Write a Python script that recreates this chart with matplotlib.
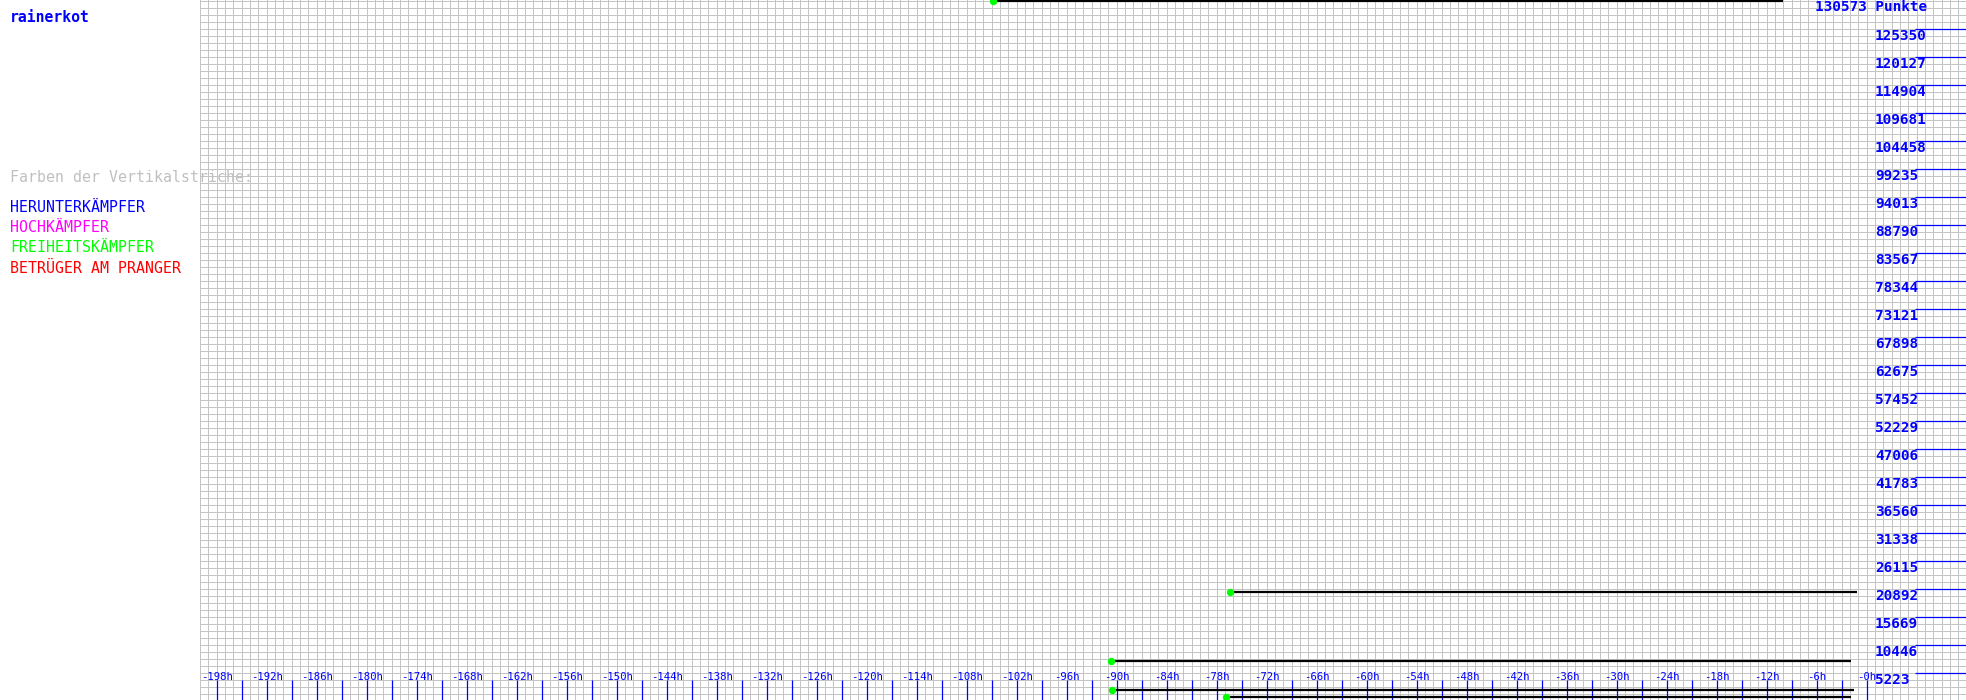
import matplotlib
matplotlib.use("Agg")
import matplotlib.pyplot as plt
import matplotlib.transforms as mtransforms

# ---- data ----
player_name = "rainerkot"
top_label = "130573 Punkte"
top_value = 130573
y_tick_values = [5223, 10446, 15669, 20892, 26115, 31338, 36560, 41783, 47006,
                 52229, 57452, 62675, 67898, 73121, 78344, 83567, 88790, 94013,
                 99235, 104458, 109681, 114904, 120127, 125350]
x_tick_hours = list(range(-198, 1, 6))               # labelled ticks
x_minor_hours = list(range(-198, 1, 3))              # all tick marks

# horizontal score segments (start hour, end hour, points)
seg_start = [-104.8, -76.4, -90.7, -90.5, -76.9]
seg_end = [-10.0, -1.1, -1.9, -1.5, -1.9]
seg_value = [130573, 20333, 7462, 1996, 634]

legend_title = "Farben der Vertikalstriche:"
legend_items = ["HERUNTERKÄMPFER", "HOCHKÄMPFER", "FREIHEITSKÄMPFER", "BETRÜGER AM PRANGER"]
legend_colors = ["#0000ff", "#ff00ff", "#00ff00", "#ff0000"]

# ---- figure ----
W, H = 1966, 700
fig = plt.figure(figsize=(W / 100, H / 100), dpi=100)
fig.patch.set_facecolor("white")
ax = fig.add_axes([200 / W, 0, (W - 200) / W, 1])
ax.set_xlim(-200, 11.92)
ax.set_ylim(130, 130706)
ax.axis("off")

mono = "DejaVu Sans Mono"
grid_step = top_value / 100

# grid
for h in range(-200, 12):
    ax.axvline(h, color="#c4c4c4", lw=0.72, zorder=1)
for k in range(0, 101):
    ax.axhline(k * grid_step, color="#c4c4c4", lw=0.72, zorder=1)

# right-side blue marker lines and labels
ax.hlines(y_tick_values, 5.8, 11.92, color="#0000ff", lw=0.9, zorder=3)
for v in y_tick_values:
    ax.annotate(str(v), xy=(1.0, v), xytext=(0, -5.4), textcoords="offset points",
                ha="left", va="center", fontsize=10.4, family=mono,
                fontweight="bold", color="#0000ff", zorder=4)
ax.annotate(top_label, xy=(-6.2, top_value), xytext=(0, -4.8), textcoords="offset points",
            ha="left", va="center", fontsize=10.4, family=mono,
            fontweight="bold", color="#0000ff", zorder=4)

# x axis ticks and labels
trans = mtransforms.blended_transform_factory(ax.transData, ax.transAxes)
ax.vlines(x_minor_hours, 0, 20 / 700, transform=trans, color="#0000ff", lw=0.9, zorder=3)
for h in x_tick_hours:
    ax.text(h, 1 - 676.7 / 700, f"-{abs(h)}h", transform=trans, ha="center", va="center",
            fontsize=7.7, family=mono, color="#0000ff", zorder=4)

# score segments
for s, e, v in zip(seg_start, seg_end, seg_value):
    ax.plot([s, e], [v, v], color="black", lw=1.6, solid_capstyle="butt", zorder=5)
    ax.plot([s], [v], marker="o", ms=4.3, color="#00ff00", mec="#00ff00", zorder=6)

# left side texts
fig.text(10 / W, 1 - 18 / H, player_name, ha="left", va="center", fontsize=10.6,
         family=mono, fontweight="bold", color="#0000ff")
fig.text(10 / W, 1 - 178 / H, legend_title, ha="left", va="center", fontsize=10.7,
         family=mono, color="#c0c0c0", zorder=10)
for i, (t, c) in enumerate(zip(legend_items, legend_colors)):
    fig.text(10 / W, 1 - (208 + 20 * i) / H, t, ha="left", va="center", fontsize=10.7,
             family=mono, color=c)

fig.savefig("out.png", dpi=100, facecolor="white")
